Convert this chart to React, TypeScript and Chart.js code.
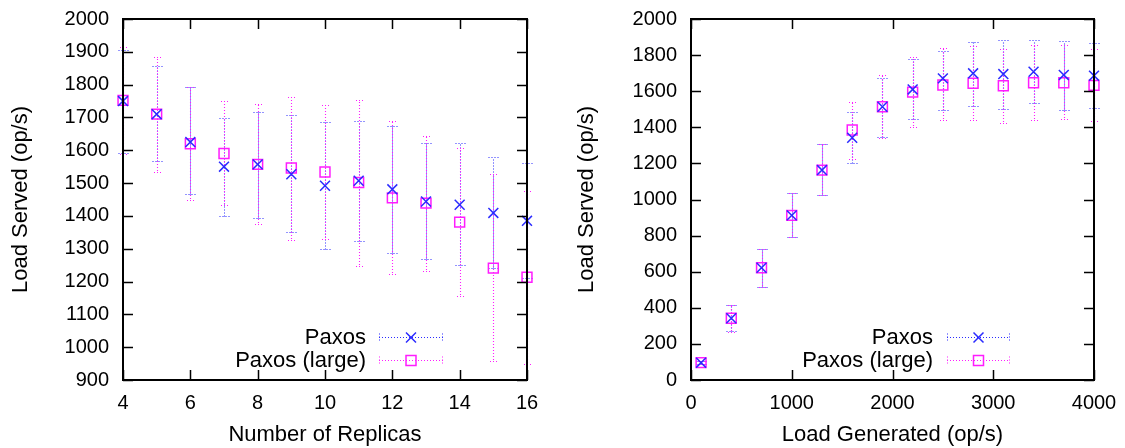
import React, { useEffect, useRef } from 'react';
import { Chart, registerables } from 'chart.js';
Chart.register(...registerables);

// ---------- Left chart: Load served vs number of replicas ----------
const replicas = [4, 5, 6, 7, 8, 9, 10, 11, 12, 13, 14, 15, 16];
const paxosMean = [1750, 1710, 1625, 1550, 1557, 1527, 1492, 1507, 1481, 1444, 1434, 1409, 1385];
const paxosLow = [1592, 1567, 1467, 1400, 1395, 1352, 1298, 1324, 1288, 1269, 1250, 1242, 1210];
const paxosHigh = [1905, 1858, 1792, 1698, 1717, 1706, 1686, 1690, 1674, 1623, 1621, 1578, 1560];
const largeMean = [1752, 1710, 1620, 1590, 1557, 1546, 1534, 1502, 1455, 1439, 1381, 1241, 1213];
const largeLow = [1590, 1533, 1447, 1433, 1375, 1328, 1331, 1248, 1222, 1233, 1155, 957, 950];
const largeHigh = [1915, 1885, 1794, 1750, 1740, 1763, 1737, 1752, 1688, 1645, 1606, 1527, 1476];
const leftXTicks = [4, 6, 8, 10, 12, 14, 16];
const leftYTicks = [900, 1000, 1100, 1200, 1300, 1400, 1500, 1600, 1700, 1800, 1900, 2000];

// ---------- Right chart: Load served vs load generated ----------
const loadGen = [100, 400, 700, 1000, 1300, 1600, 1900, 2200, 2500, 2800, 3100, 3400, 3700, 4000];
const paxos2Mean = [96, 342, 622, 912, 1163, 1342, 1514, 1610, 1671, 1699, 1695, 1708, 1690, 1686];
const paxos2Low = [86, 270, 517, 790, 1027, 1200, 1348, 1444, 1496, 1518, 1501, 1532, 1496, 1505];
const paxos2High = [106, 415, 724, 1038, 1307, 1487, 1671, 1776, 1824, 1870, 1884, 1884, 1878, 1865];
const large2Mean = [96, 342, 622, 912, 1163, 1385, 1514, 1595, 1634, 1644, 1630, 1647, 1647, 1632];
const large2Low = [86, 268, 517, 790, 1027, 1225, 1339, 1400, 1440, 1440, 1425, 1440, 1446, 1435];
const large2High = [106, 415, 724, 1038, 1307, 1540, 1690, 1791, 1837, 1850, 1834, 1858, 1856, 1834];
const rightXTicks = [0, 1000, 2000, 3000, 4000];
const rightYTicks = [0, 200, 400, 600, 800, 1000, 1200, 1400, 1600, 1800, 2000];

const seriesNames = ['Paxos', 'Paxos (large)'];

const FONT = "'Liberation Sans', Arial, Helvetica, sans-serif";
const BLUE = '#2b2bff';
const MAGENTA = '#ff1cff';

type Series = { xs: number[]; low: number[]; high: number[]; color: string };

function errorBarPlugin(series: Series[]) {
  return {
    id: 'errbars',
    beforeDatasetsDraw(chart: any) {
      const { ctx, scales } = chart;
      const x = scales.x, y = scales.y;
      series.forEach((s, si) => {
        ctx.save();
        ctx.strokeStyle = s.color;
        ctx.lineWidth = 1.1;
        ctx.setLineDash([1, 2]);
        ctx.lineDashOffset = si * 1.5;
        for (let i = 0; i < s.xs.length; i++) {
          const px = Math.round(x.getPixelForValue(s.xs[i])) + 0.5;
          const pl = Math.round(y.getPixelForValue(s.low[i])) + 0.5;
          const ph = Math.round(y.getPixelForValue(s.high[i])) + 0.5;
          ctx.beginPath();
          ctx.moveTo(px, pl);
          ctx.lineTo(px, ph);
          ctx.moveTo(px - 5, pl);
          ctx.lineTo(px + 5, pl);
          ctx.moveTo(px - 5, ph);
          ctx.lineTo(px + 5, ph);
          ctx.stroke();
        }
        ctx.restore();
      });
    },
  };
}

type LegendPos = { textRight: number; sampleLeft: number; sampleRight: number; rows: number[] };

function framePlugin(leg: LegendPos) {
  return {
    id: 'frame',
    afterDraw(chart: any) {
      const { ctx, chartArea: a, scales } = chart;
      const x = scales.x, y = scales.y;
      ctx.save();
      ctx.setLineDash([]);
      ctx.strokeStyle = '#000';
      ctx.lineWidth = 1.5;
      ctx.beginPath();
      x.ticks.forEach((t: any) => {
        const p = Math.round(x.getPixelForValue(t.value)) + 0.5;
        ctx.moveTo(p, a.bottom);
        ctx.lineTo(p, a.bottom - 10);
        ctx.moveTo(p, a.top);
        ctx.lineTo(p, a.top + 10);
      });
      y.ticks.forEach((t: any) => {
        const p = Math.round(y.getPixelForValue(t.value)) + 0.5;
        ctx.moveTo(a.left, p);
        ctx.lineTo(a.left + 10, p);
        ctx.moveTo(a.right, p);
        ctx.lineTo(a.right - 10, p);
      });
      ctx.stroke();
      ctx.lineWidth = 2;
      ctx.strokeRect(a.left, a.top, a.right - a.left, a.bottom - a.top);

      // legend
      ctx.font = `22px ${FONT}`;
      ctx.fillStyle = '#000';
      ctx.textAlign = 'right';
      ctx.textBaseline = 'middle';
      const colors = [BLUE, MAGENTA];
      leg.rows.forEach((ry, i) => {
        ctx.fillText(seriesNames[i], leg.textRight, ry + 1);
        ctx.save();
        ctx.strokeStyle = colors[i];
        ctx.lineWidth = 1.1;
        ctx.setLineDash([1, 2]);
        const yy = Math.round(ry) + 0.5;
        ctx.beginPath();
        ctx.moveTo(leg.sampleLeft, yy);
        ctx.lineTo(leg.sampleRight, yy);
        ctx.moveTo(leg.sampleLeft + 0.5, yy - 4);
        ctx.lineTo(leg.sampleLeft + 0.5, yy + 4);
        ctx.moveTo(leg.sampleRight - 0.5, yy - 4);
        ctx.lineTo(leg.sampleRight - 0.5, yy + 4);
        ctx.stroke();
        ctx.setLineDash([]);
        ctx.lineWidth = 1.5;
        const cx = (leg.sampleLeft + leg.sampleRight) / 2;
        ctx.beginPath();
        if (i === 0) {
          ctx.moveTo(cx - 5, yy - 5);
          ctx.lineTo(cx + 5, yy + 5);
          ctx.moveTo(cx + 5, yy - 5);
          ctx.lineTo(cx - 5, yy + 5);
        } else {
          ctx.rect(cx - 5, yy - 5, 10, 10);
        }
        ctx.stroke();
        ctx.restore();
      });
      ctx.restore();
    },
  };
}

type Cfg = {
  xs: number[];
  m1: number[]; l1: number[]; h1: number[];
  m2: number[]; l2: number[]; h2: number[];
  xTicks: number[]; yTicks: number[];
  xTitle: string; yTitle: string;
  plotLeft: number; padRight: number; yTitlePad: number;
  legend: LegendPos;
};

function zeroPad(s: any) {
  s.paddingTop = 0;
  s.paddingBottom = 0;
  s.paddingLeft = 0;
  s.paddingRight = 0;
}

function makeConfig(c: Cfg): any {
  const tickFont = { family: FONT, size: 20 };
  const titleFont = { family: FONT, size: 22 };
  return {
    type: 'scatter',
    data: {
      datasets: [
        {
          label: seriesNames[0],
          data: c.xs.map((x, i) => ({ x, y: c.m1[i] })),
          pointStyle: 'crossRot',
          pointRadius: 7,
          pointBorderWidth: 1.5,
          borderColor: BLUE,
          backgroundColor: BLUE,
          clip: false,
        },
        {
          label: seriesNames[1],
          data: c.xs.map((x, i) => ({ x, y: c.m2[i] })),
          pointStyle: 'rect',
          pointRadius: 7,
          pointBorderWidth: 1.5,
          borderColor: MAGENTA,
          backgroundColor: 'rgba(0,0,0,0)',
          clip: false,
        },
      ],
    },
    options: {
      animation: false,
      responsive: false,
      events: [],
      layout: { padding: { left: 0, right: c.padRight, top: 19, bottom: 0 } },
      plugins: { legend: { display: false }, tooltip: { enabled: false } },
      scales: {
        x: {
          type: 'linear',
          min: c.xTicks[0],
          max: c.xTicks[c.xTicks.length - 1],
          afterBuildTicks: (s: any) => { s.ticks = c.xTicks.map((v) => ({ value: v })); },
          afterFit: (s: any) => { s.height = 68; zeroPad(s); },
          ticks: { color: '#000', font: tickFont, padding: 11, maxRotation: 0, autoSkip: false, callback: (v: any) => String(v) },
          grid: { display: false, drawTicks: false },
          border: { display: false },
          title: { display: true, text: c.xTitle, color: '#000', font: titleFont, padding: { top: 0, bottom: 0 } },
        },
        y: {
          type: 'linear',
          min: c.yTicks[0],
          max: c.yTicks[c.yTicks.length - 1],
          afterBuildTicks: (s: any) => { s.ticks = c.yTicks.map((v) => ({ value: v })); },
          afterFit: (s: any) => { s.width = c.plotLeft; zeroPad(s); },
          ticks: { color: '#000', font: tickFont, padding: 14, autoSkip: false, callback: (v: any) => String(v) },
          grid: { display: false, drawTicks: false },
          border: { display: false },
          title: { display: true, text: c.yTitle, color: '#000', font: titleFont, padding: { top: c.yTitlePad, bottom: 0 } },
        },
      },
    },
    plugins: [
      errorBarPlugin([
        { xs: c.xs, low: c.l1, high: c.h1, color: BLUE },
        { xs: c.xs, low: c.l2, high: c.h2, color: MAGENTA },
      ]),
      framePlugin(c.legend),
    ],
  };
}

function ChartBox({ cfg, left, width }: { cfg: Cfg; left: number; width: number }) {
  const ref = useRef<HTMLCanvasElement>(null);
  useEffect(() => {
    const chart = new Chart(ref.current as HTMLCanvasElement, makeConfig(cfg));
    return () => chart.destroy();
  }, []);
  return (
    <div style={{ position: 'absolute', left, top: 0, width, height: 448 }}>
      <canvas ref={ref} width={width} height={448} style={{ width, height: 448, display: 'block' }} />
    </div>
  );
}

const leftCfg: Cfg = {
  xs: replicas,
  m1: paxosMean, l1: paxosLow, h1: paxosHigh,
  m2: largeMean, l2: largeLow, h2: largeHigh,
  xTicks: leftXTicks, yTicks: leftYTicks,
  xTitle: 'Number of Replicas', yTitle: 'Load Served (op/s)',
  plotLeft: 123, padRight: 35, yTitlePad: 8,
  legend: { textRight: 366, sampleLeft: 379, sampleRight: 443, rows: [336.5, 359.5] },
};

const rightCfg: Cfg = {
  xs: loadGen,
  m1: paxos2Mean, l1: paxos2Low, h1: paxos2High,
  m2: large2Mean, l2: large2Low, h2: large2High,
  xTicks: rightXTicks, yTicks: rightYTicks,
  xTitle: 'Load Generated (op/s)', yTitle: 'Load Served (op/s)',
  plotLeft: 129, padRight: 31, yTitlePad: 12,
  legend: { textRight: 371, sampleLeft: 385, sampleRight: 448, rows: [336.5, 359.5] },
};

export default function App() {
  return (
    <div style={{ position: 'fixed', left: 0, top: 0, width: 1125, height: 448, background: '#fff' }}>
      <ChartBox cfg={leftCfg} left={0} width={562} />
      <ChartBox cfg={rightCfg} left={562} width={563} />
    </div>
  );
}
